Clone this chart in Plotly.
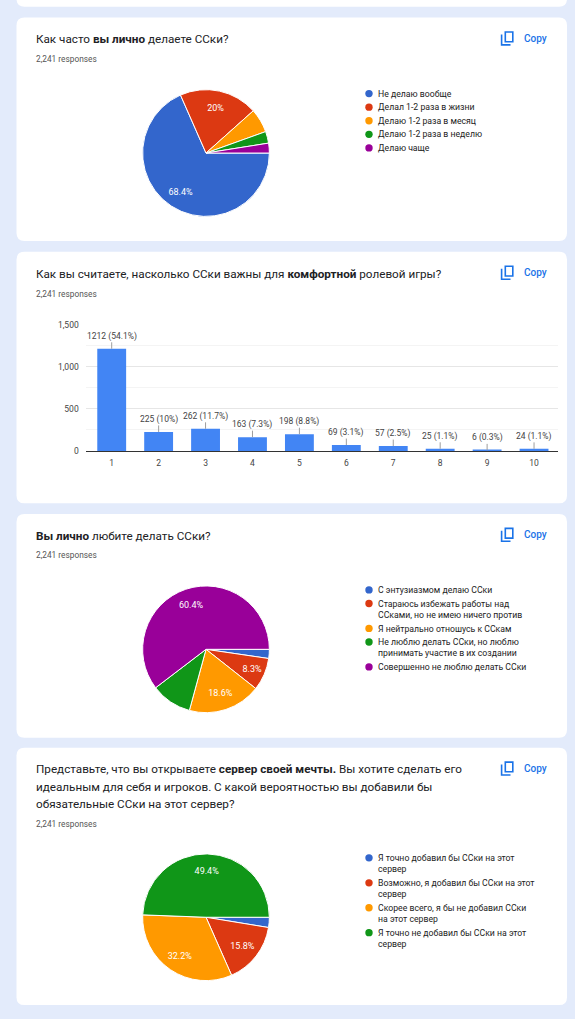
import plotly.graph_objects as go

# --- page geometry (screenshot pixels) ---
W, H = 575, 1019
BG = "#e3ebfb"
FONT = "Roboto"
PALETTE = ["#3366cc", "#dc3912", "#ff9900", "#109618", "#990099"]
TOTAL = 2241

# --- data ---
q1_title = "Как часто <b>вы лично</b> делаете ССки?"
q1_labels = ["Не делаю вообще", "Делал 1-2 раза в жизни", "Делаю 1-2 раза в месяц",
             "Делаю 1-2 раза в неделю", "Делаю чаще"]
q1_counts = [1533, 448, 137, 67, 56]
q1_shown = [True, True, False, False, False]

q2_title = "Как вы считаете, насколько ССки важны для <b>комфортной</b> ролевой игры?"
q2_scores = ["1", "2", "3", "4", "5", "6", "7", "8", "9", "10"]
q2_counts = [1212, 225, 262, 163, 198, 69, 57, 25, 6, 24]
q2_yticks = [0, 500, 1000, 1500]

q3_title = "<b>Вы лично</b> любите делать ССки?"
q3_labels = ["С энтузиазмом делаю ССки",
             "Стараюсь избежать работы над<br>ССками, но не имею ничего против",
             "Я нейтрально отношусь к ССкам",
             "Не люблю делать ССки, но люблю<br>принимать участие в их создании",
             "Совершенно не люблю делать ССки"]
q3_counts = [52, 186, 417, 233, 1353]
q3_shown = [False, True, True, False, True]

q4_title = ["Представьте, что вы открываете <b>сервер своей мечты.</b> Вы хотите сделать его",
            "идеальным для себя и игроков. С какой вероятностью вы добавили бы",
            "обязательные ССки на этот сервер?"]
q4_labels = ["Я точно добавил бы ССки на этот<br>сервер",
             "Возможно, я добавил бы ССки на этот<br>сервер",
             "Скорее всего, я бы не добавил ССки<br>на этот сервер",
             "Я точно не добавил бы ССки на этот<br>сервер"]
q4_counts = [58, 354, 722, 1107]
q4_shown = [False, True, True, True]


def X(px):
    return px / W


def Y(py):
    return 1 - py / H


def pct(v):
    s = f"{v / TOTAL * 100:.1f}"
    if s.endswith(".0"):
        s = s[:-2]
    return s + "%"


def card_path(x0, y0, x1, y1, r=8):
    rx, ry = r / W, r / H
    a, b, c, d = X(x0), Y(y1), X(x1), Y(y0)  # left, bottom, right, top
    return (f"M {a + rx},{d} L {c - rx},{d} Q {c},{d} {c},{d - ry} "
            f"L {c},{b + ry} Q {c},{b} {c - rx},{b} L {a + rx},{b} "
            f"Q {a},{b} {a},{b + ry} L {a},{d - ry} Q {a},{d} {a + rx},{d} Z")


fig = go.Figure()
shapes = []
annotations = []

# cards (top one is only a sliver of the previous question)
cards = [(-20, 1.7), (12.7, 238.3), (249.3, 503.3), (514, 740), (750, 1010)]
for top, bottom in cards:
    shapes.append(dict(type="path", path=card_path(16.5, top, 567, bottom),
                       xref="paper", yref="paper", fillcolor="white",
                       line=dict(width=0), layer="below"))


def header(top, title_lines, resp_y):
    for i, line in enumerate(title_lines):
        annotations.append(dict(text=line, x=X(34), y=Y(top + 22 + i * 17.3),
                                xref="paper", yref="paper", xanchor="left", yanchor="middle",
                                showarrow=False, font=dict(family=FONT, size=11.7, color="#202124")))
    annotations.append(dict(text="2,241 responses", x=X(34), y=Y(resp_y),
                            xref="paper", yref="paper", xanchor="left", yanchor="middle",
                            showarrow=False, font=dict(family=FONT, size=8.3, color="#555")))
    # copy button
    cy = top + 21
    annotations.append(dict(text="Copy", x=X(521.5), y=Y(cy), xref="paper", yref="paper",
                            xanchor="left", yanchor="middle", showarrow=False,
                            font=dict(family=FONT, size=10, color="#1a73e8", weight=500)))
    blue = "#1a73e8"
    shapes.append(dict(type="rect", x0=X(505.3), x1=X(512.8), y0=Y(cy + 3.4), y1=Y(cy - 6.4),
                       xref="paper", yref="paper", line=dict(color=blue, width=1.6)))
    shapes.append(dict(type="path",
                       path=f"M {X(501.6)},{Y(cy - 4)} L {X(501.6)},{Y(cy + 6.6)} L {X(510.5)},{Y(cy + 6.6)}",
                       xref="paper", yref="paper", line=dict(color=blue, width=1.6)))


def pie(labels, counts, shown, cx, cy, r=64):
    n = len(counts)
    dom = dict(x=[X(cx - r), X(cx + r)], y=[Y(cy + r), Y(cy - r)])
    common = dict(labels=[l.replace("<br>", " ") for l in labels], values=counts,
                  sort=False, direction="clockwise", rotation=90, domain=dom,
                  showlegend=False, hoverinfo="skip")
    fig.add_trace(go.Pie(textinfo="none",
                         marker=dict(colors=PALETTE[:n], line=dict(color="white", width=1)),
                         **common))
    # transparent ring on top carries the percentages, pushing them out to ~3/4 radius
    fig.add_trace(go.Pie(hole=0.46,
                         text=[pct(v) if s else "" for v, s in zip(counts, shown)],
                         textinfo="text", textposition="inside", insidetextorientation="horizontal",
                         textfont=dict(family=FONT, size=9, color="white"),
                         marker=dict(colors=["rgba(0,0,0,0)"] * n, line=dict(width=0)),
                         **common))
    # legend
    ry = cy - 60
    for i, lab in enumerate(labels):
        shapes.append(dict(type="circle", xref="paper", yref="paper",
                           x0=X(369 - 3.7), x1=X(369 + 3.7), y0=Y(ry + 3.7), y1=Y(ry - 3.7),
                           fillcolor=PALETTE[i], line=dict(width=0)))
        annotations.append(dict(text=lab, x=X(377), y=Y(ry - 5.9), xref="paper", yref="paper",
                                xanchor="left", yanchor="top", align="left", showarrow=False,
                                borderpad=0,
                                font=dict(family=FONT, size=8.7, color="#222")))
        ry += 13.7 + 11.5 * lab.count("<br>")


# question 1
header(12.7, [q1_title], 55)
pie(q1_labels, q1_counts, q1_shown, 206, 149.5)

# question 2 - bar chart
header(249.3, [q2_title], 291.7)
fig.add_trace(go.Bar(x=q2_scores, y=q2_counts, marker=dict(color="#4285f4", line=dict(width=0)),
                     hoverinfo="skip", showlegend=False))
for i, v in enumerate(q2_counts):
    # category axes take the position index for annotations
    annotations.append(dict(text=f"{v} ({pct(v)})", x=i, y=v, xref="x", yref="y",
                            showarrow=True, arrowhead=0, arrowwidth=1, arrowcolor="#9e9e9e",
                            ax=0, ay=-12.5, borderpad=0,
                            font=dict(family=FONT, size=8.5, color="#444")))

# question 3
header(514, [q3_title], 555.7)
pie(q3_labels, q3_counts, q3_shown, 206, 650.7)

# question 4
header(750, q4_title, 827)
pie(q4_labels, q4_counts, q4_shown, 206, 921.3)

fig.update_layout(
    width=W, height=H, margin=dict(l=0, r=0, t=0, b=0),
    paper_bgcolor=BG, plot_bgcolor="white",
    font=dict(family=FONT),
    bargap=0.385,
    shapes=shapes, annotations=annotations,
    xaxis=dict(domain=[X(85.7), X(557.5)], type="category", showline=True, linecolor="#333",
               linewidth=1, ticks="", showgrid=False, fixedrange=True, ticklabelstandoff=4,
               tickfont=dict(family=FONT, size=8.5, color="#444")),
    yaxis=dict(domain=[Y(450.3), Y(322.7)], range=[0, 1500], tickvals=q2_yticks,
               tickformat=",d", ticks="", showline=False, zeroline=False,
               gridcolor="#e6e6e6", gridwidth=1, ticklabelstandoff=6,
               minor=dict(dtick=250, showgrid=True, gridcolor="#f4f4f4"),
               tickfont=dict(family=FONT, size=8.5, color="#444"), fixedrange=True),
)

# the page body has an 8px default margin; drop it so the figure fills the window
fig.write_html("out.html", config={"displayModeBar": False},
               post_script="document.body.style.margin='0';document.body.style.background='%s';" % BG)
